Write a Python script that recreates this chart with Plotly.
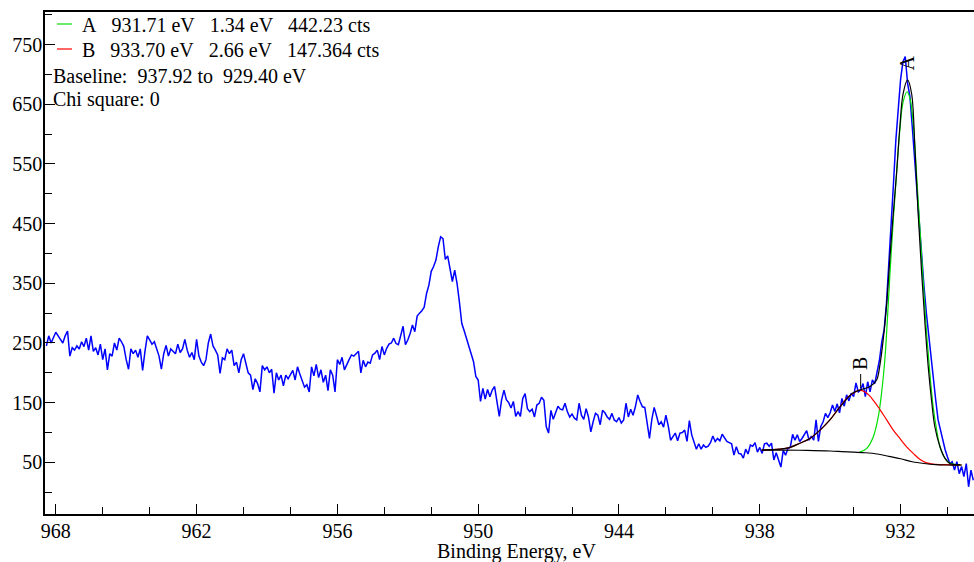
import plotly.graph_objects as go

# ---------------- data ----------------
# measured spectrum: binding energy starts at 968.4 eV, 0.1 eV steps (decreasing)
be_start = 968.4
be_step = 0.1
counts = [
    245, 262, 250, 258, 268, 262, 255, 250, 262, 270,
    228, 242, 238, 245, 240, 252, 244, 258, 238, 262,
    236, 242, 230, 248, 222, 240, 205, 232, 228, 250,
    238, 258, 252, 244, 222, 206, 240, 232, 238, 226,
    240, 204, 236, 262, 255, 248, 252, 240, 228, 206,
    232, 246, 228, 240, 236, 232, 248, 234, 240, 256,
    238, 226, 234, 222, 256, 228, 218, 212, 222, 250,
    265,
    245, 238, 230, 199, 225, 222, 240, 232, 238,
    212, 218, 200, 222, 232, 215, 200, 196, 172, 190,
    182, 168, 212, 205, 210, 200, 206, 166, 200, 188,
    196, 178, 196, 190, 198, 204, 188, 210, 198, 188,
    176, 180, 168, 210, 195, 214, 192, 205, 184, 196,
    170, 205, 196, 168, 222, 214, 226, 205, 215, 222,
    230, 228, 232, 236, 200,
    221, 210, 218, 216, 230,
    233, 238, 222, 244, 230, 241, 248, 250, 258, 249,
    247, 261, 278, 247, 255, 266, 280, 269, 295, 300,
    304, 310, 333, 347, 370, 378, 389, 411, 428, 425,
    390, 396, 375, 353, 372, 350, 319, 283, 271, 258,
    244, 230, 219, 194, 188, 152, 174, 156, 172, 160,
    171, 177, 148, 127, 155, 171, 155, 150, 141, 152,
    127, 135, 127, 157, 165, 140, 135,
    139, 126, 146,
    149, 159, 154, 110, 99, 137, 122, 135, 144, 139,
    138, 149, 135, 126, 131, 124, 121, 149, 129, 122,
    140, 126, 101, 118, 132, 129, 113, 137, 133, 126,
    122, 132, 121, 118, 125, 116, 121, 149, 126, 139,
    129, 143, 163, 152, 143, 142, 113, 90, 122, 142,
    128, 113, 118, 109, 129, 111, 87, 93, 99, 86,
    99, 100, 104, 85, 120, 96, 85, 72, 81, 72,
    79, 75, 77, 83, 94, 85, 90, 86, 97, 92,
    85, 83, 81, 62, 76, 65, 64, 57, 72, 64,
    79, 77, 83, 67, 75, 65, 81, 82, 77, 82,
    54, 66, 54, 42, 70, 62, 73, 75, 97, 87,
    96, 85, 90, 97, 103, 87, 94, 87, 121, 85,
    110, 118, 132, 125, 133, 146, 135, 148, 133, 157,
    144, 163, 153, 166, 160, 183, 168,
    171, 182, 160,
    185, 168, 188, 182, 205, 221, 252, 272, 316, 378,
    445, 518, 590, 646, 691, 721, 730, 685, 663, 612,
    557, 495, 445, 395, 344, 300, 261, 221, 194, 154,
    121, 104, 87, 71, 59, 48, 51, 37, 51, 31,
    43, 26, 48, 9, 37, 20,
]
energy = [round(be_start - be_step * i, 2) for i in range(len(counts))]

# Shirley-type baseline
baseline_be = [937.92, 937.0, 936.0, 935.0, 934.5, 934.0, 933.5, 933.0, 932.5,
               932.0, 931.5, 931.0, 930.5, 930.0, 929.4]
baseline_ct = [70.5, 70.5, 70, 69, 68, 67, 66, 64, 60, 56, 51, 48, 46, 45.5, 45.5]

# component A (green)
peakA_be = [933.75, 933.45, 933.16, 932.95, 932.81, 932.66, 932.57, 932.45, 932.31,
            932.17, 932.03, 931.89, 931.72, 931.6, 931.46, 931.32, 931.18, 931.03,
            930.89, 930.75, 930.61, 930.46, 930.32, 930.11, 929.9, 929.4]
peakA_ct = [67, 73, 93, 126, 166, 227, 283, 367, 456, 534, 607, 654, 671, 660, 618,
            534, 445, 350, 266, 199, 143, 104, 76, 57, 49, 45.5]

# component B (red)
peakB_be = [937.92, 937.14, 936.71, 936.29, 935.86, 935.43, 935.01, 934.58, 934.3,
            934.01, 933.73, 933.45, 933.16, 932.87, 932.59, 932.31, 932.03, 931.74,
            931.46, 931.18, 930.89, 930.61, 930.04, 929.4]
peakB_ct = [70.5, 72, 75, 82, 90, 104, 121, 143, 157, 166, 171, 166, 154, 138, 121,
            104, 90, 76, 65, 55, 49, 47, 46, 45.5]

# fitted envelope (black)
env_be = [937.92, 937.14, 936.71, 936.29, 935.86, 935.43, 935.01, 934.58, 934.03,
          933.66, 933.30, 933.02, 932.88, 932.74, 932.59, 932.45, 932.31, 932.17,
          932.03, 931.89, 931.70, 931.53, 931.39, 931.25, 931.10, 930.96, 930.82,
          930.68, 930.54, 930.32, 930.11, 929.90, 929.47]
env_ct = [70.5, 72, 75, 82, 90, 104, 121, 143, 166, 172, 177, 188, 213, 255, 316,
          395, 467, 534, 612, 668, 691, 668, 579, 467, 367, 283, 210, 154, 110, 76,
          57, 48, 46]

NB = "\u00a0"
legend_lines = [
    "A" + NB * 3 + "931.71 eV" + NB * 3 + "1.34 eV" + NB * 3 + "442.23 cts",
    "B" + NB * 3 + "933.70 eV" + NB * 3 + "2.66 eV" + NB * 3 + "147.364 cts",
    "Baseline:" + NB * 2 + "937.92 to" + NB * 2 + "929.40 eV",
    "Chi square: 0",
]
peak_labels = ["A", "B"]
peak_label_be = [931.71, 933.70]
peak_label_ct = [719, 216]

# ---------------- figure ----------------
FONT = "Liberation Serif"
FS = 20
fig = go.Figure()
fig.add_trace(go.Scatter(x=energy, y=counts, mode="lines",
                         line=dict(color="#0000FF", width=1.5)))
fig.add_trace(go.Scatter(x=peakA_be, y=peakA_ct, mode="lines",
                         line=dict(color="#00E000", width=1.2, shape="spline")))
fig.add_trace(go.Scatter(x=peakB_be, y=peakB_ct, mode="lines",
                         line=dict(color="#FF0000", width=1.2, shape="spline")))
fig.add_trace(go.Scatter(x=baseline_be, y=baseline_ct, mode="lines",
                         line=dict(color="black", width=1.2, shape="spline")))
fig.add_trace(go.Scatter(x=env_be, y=env_ct, mode="lines",
                         line=dict(color="black", width=1.2, shape="spline")))

L, R, T, B = 45, 974, 12, 514
W, H = R - L, B - T


def px(x):
    return (x - L) / W


def py(y):
    return (B - y) / H


ann = []
text_x = [80, 80, 51, 51]
text_y = [25, 50, 76, 100]
for t, x0, y0 in zip(legend_lines, text_x, text_y):
    ann.append(dict(x=px(x0), y=py(y0), xref="paper", yref="paper", text=t,
                    showarrow=False, xanchor="left", yanchor="middle",
                    font=dict(family=FONT, size=FS, color="black")))
for t, xe, ye in zip(peak_labels, peak_label_be, peak_label_ct):
    ann.append(dict(x=xe, y=ye, xref="x", yref="y", text=t, showarrow=False,
                    textangle=-90, xanchor="center", yanchor="middle",
                    font=dict(family=FONT, size=FS, color="black")))
ann.append(dict(x=px(516.5), y=py(551), xref="paper", yref="paper",
                text="Binding Energy, eV", showarrow=False, xanchor="center",
                yanchor="middle", font=dict(family=FONT, size=FS, color="black")))

shapes = [
    dict(type="line", xref="paper", yref="paper", x0=px(57), x1=px(72),
         y0=py(24), y1=py(24), line=dict(color="#00E000", width=1.2)),
    dict(type="line", xref="paper", yref="paper", x0=px(57), x1=px(72),
         y0=py(49), y1=py(49), line=dict(color="#FF0000", width=1.2)),
    dict(type="line", xref="x", yref="y", x0=peak_label_be[1], x1=peak_label_be[1],
         y0=174, y1=198, line=dict(color="black", width=1)),
]

fig.update_layout(
    width=974, height=562,
    margin=dict(l=L, r=0, t=T, b=562 - B),
    plot_bgcolor="white", paper_bgcolor="white",
    showlegend=False,
    font=dict(family=FONT, size=FS, color="black"),
    annotations=ann, shapes=shapes,
    xaxis=dict(range=[968.46, 928.87], tick0=968, dtick=6, ticks="inside",
               ticklen=10, tickwidth=1, tickcolor="black", showline=True,
               linecolor="black", linewidth=1.5, mirror=True, showgrid=False,
               zeroline=False, automargin=False, ticklabelstandoff=-2,
               tickfont=dict(family=FONT, size=FS, color="black"),
               minor=dict(dtick=2, ticks="inside", ticklen=7, tickcolor="black",
                          showgrid=False)),
    yaxis=dict(range=[-36.6, 804.6], tick0=50, dtick=100, ticks="inside",
               ticklen=10, tickwidth=1, tickcolor="black", showline=True,
               linecolor="black", linewidth=1.5, showgrid=False, zeroline=False,
               automargin=False, ticklabelstandoff=-3,
               tickfont=dict(family=FONT, size=FS, color="black"),
               minor=dict(dtick=50, ticks="inside", ticklen=7, tickcolor="black",
                          showgrid=False)),
)

fig.write_html(
    "out.html",
    config={"displayModeBar": False},
    post_script="document.body.style.margin='0';document.body.style.padding='0';"
                "document.body.style.overflow='hidden';",
)
